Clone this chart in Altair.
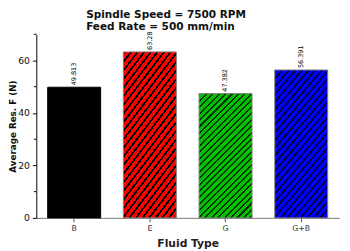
import math
import altair as alt
import pandas as pd

# ---- data ----
cats = ["B", "E", "G", "G+B"]
vals = [49.813, 63.28, 47.382, 56.391]
labels = ["49.813", "63.28", "47.382", "56.391"]
fills = ["#000000", "#ff0000", "#00c000", "#0000ff"]
hatch = [None, "#000000", "#003000", "#000040"]
y_ticks = [0, 20, 40, 60]
y_minor = [10, 30, 50, 70]

W, H = 310, 188
YMAX = 70
PAD_IN, PAD_OUT = 0.3, 0.15
FONT = "DejaVu Sans"

df = pd.DataFrame({"fluid": cats, "force": vals, "label": labels})

xscale = alt.Scale(domain=cats, paddingInner=PAD_IN, paddingOuter=PAD_OUT)
yscale = alt.Scale(domain=[0, YMAX], nice=False, zero=True)

xaxis = alt.Axis(
    labelAngle=0, labelFont=FONT, labelFontSize=8, labelColor="#333333",
    labelPadding=3, tickSize=4, tickColor="#555555", domainColor="#777777",
    titleFont=FONT, titleFontSize=11, titleFontWeight="bold", titleColor="#222222",
    titlePadding=5,
)
yaxis = alt.Axis(
    values=y_ticks, labelFont=FONT, labelFontSize=9.5, labelColor="#111111",
    labelPadding=3, tickSize=4, tickColor="#000000", domainColor="#000000",
    titleFont=FONT, titleFontSize=9, titleFontWeight="bold", titleColor="#111111",
    titlePadding=2, titleBaseline="alphabetic",
)

X = alt.X("fluid:N", sort=cats, scale=xscale, axis=xaxis, title="Fluid Type")
Y = alt.Y("force:Q", scale=yscale, axis=yaxis, title="Average Res. F (N)")

step = W / (len(cats) - PAD_IN + 2 * PAD_OUT)
bw = step * (1 - PAD_IN)


def hatch_fill(base, dark, value, period=3.4, line=1.1, rmax=2.4):
    if dark is None:
        return base
    h = value / YMAX * H
    r = min(h / bw, rmax)
    L = bw * (1 + r)
    stops = []
    k = 0
    while k * period < L:
        t0 = k * period / L
        t1 = min((k * period + line) / L, 1.0)
        t2 = min((k + 1) * period / L, 1.0)
        stops += [
            {"offset": t0, "color": dark},
            {"offset": t1, "color": dark},
            {"offset": t1, "color": base},
            {"offset": t2, "color": base},
        ]
        k += 1
    return {"gradient": "linear", "x1": 0, "y1": 0, "x2": 1, "y2": r, "stops": stops}


base = alt.Chart(df)
layers = []
for c, v, f, d in zip(cats, vals, fills, hatch):
    layers.append(
        base.transform_filter(alt.datum.fluid == c)
        .mark_bar(fill=hatch_fill(f, d, v), stroke="#808080" if d else "#000000", strokeWidth=1)
        .encode(x=X, y=Y)
    )

text = base.mark_text(angle=270, align="left", baseline="middle", dx=2,
                      font=FONT, fontSize=6.6, color="#000000").encode(x=X, y=Y, text="label:N")

minor = alt.Chart(pd.DataFrame({"force": y_minor})).mark_rule(color="#000000", strokeWidth=1).encode(
    y=Y, x=alt.value(-2.5), x2=alt.value(0)
)

chart = (
    alt.layer(*layers, text, minor)
    .properties(
        width=W, height=H,
        title=alt.TitleParams(
            text=["Spindle Speed = 7500 RPM", "Feed Rate = 500 mm/min"],
            font=FONT, fontSize=10.75, fontWeight="bold", color="#111111",
            anchor="start", frame="group", dx=51, dy=3, offset=2, lineHeight=12,
        ),
        padding={"left": 29, "top": 24, "right": 3, "bottom": 31},
        autosize=alt.AutoSizeParams(type="none"),
    )
    .configure_view(stroke=None)
    .configure_axis(grid=False)
)

chart.save("out.html", embed_options={"renderer": "svg", "actions": False})
